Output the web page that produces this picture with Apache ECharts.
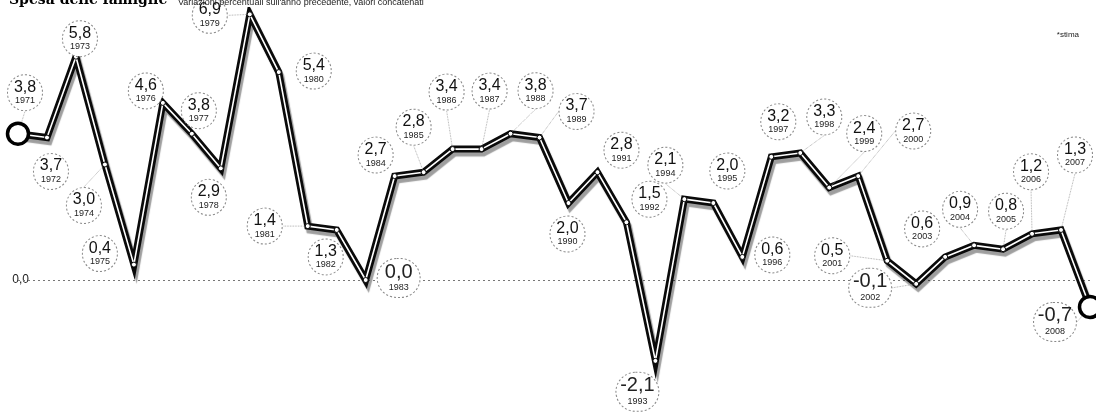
<!DOCTYPE html>
<html><head><meta charset="utf-8">
<script src="https://cdn.jsdelivr.net/npm/echarts@6/dist/echarts.min.js"></script>
<style>html,body{margin:0;padding:0;background:#fff}#c{width:1096px;height:413px}</style>
</head><body><div id="c"></div>
<script>
const years = ['1971','1972','1973','1974','1975','1976','1977','1978','1979','1980',
  '1981','1982','1983','1984','1985','1986','1987','1988','1989','1990',
  '1991','1992','1993','1994','1995','1996','1997','1998','1999','2000',
  '2001','2002','2003','2004','2005','2006','2007','2008'];
const values = [3.8,3.7,5.8,3.0,0.4,4.6,3.8,2.9,6.9,5.4,
  1.4,1.3,0.0,2.7,2.8,3.4,3.4,3.8,3.7,2.0,
  2.8,1.5,-2.1,2.1,2.0,0.6,3.2,3.3,2.4,2.7,
  0.5,-0.1,0.6,0.9,0.8,1.2,1.3,-0.7];
const titleText = 'Spesa delle famiglie';
const subtitleText = "Variazioni percentuali sull'anno precedente, valori concatenati";
const noteText = '*stima';

// layout only: offset (px) of each annotation circle from its point
const labelOffsets = [[7,-41],[4,34],[4,-18],[-21,41],[-34,-11],[-17,-12],[7,-23],[-12,29],[-40,1],[35,-1],
  [-43,0],[-11,27],[33,-2],[-19,-21],[-10,-45],[-6,-57],[8,-58],[25,-43],[37,-26],[-1,31],
  [24,-22],[23,-23],[-18,31],[-19,-34],[14,-32],[30,-2],[7,-35],[24,-36],[35,-54],[55,-45],
  [-55,-5],[-46,4],[-23,-28],[-14,-36],[3,-38],[-1,-62],[14,-75],[-35,15]];

const fmt = v => v.toFixed(1).replace('.', ',');
const NARROW = "'Liberation Sans Narrow','Arial Narrow','Liberation Sans',sans-serif";
const last = values.length - 1;

function labelFor(v, i) {
  const big = v <= 0;
  return {
    show: true,
    position: 'inside',
    formatter: p => '{' + (big ? 'vb' : 'v') + '|' + fmt(p.value) + '}\n{y|' + p.name + '}',
    width: big ? 40 : 32,
    padding: big ? [3, 1, 4, 1] : [4, 1, 4, 1],
    backgroundColor: '#fff',
    borderColor: '#8a8a8a',
    borderWidth: 1,
    borderType: 'dotted',
    borderRadius: big ? 22 : 18,
    align: 'center',
    verticalAlign: 'middle',
    rich: {
      v: {fontFamily: NARROW, fontSize: 16, lineHeight: 16, color: '#111', align: 'center'},
      vb: {fontFamily: NARROW, fontSize: 20, lineHeight: 20, color: '#222', align: 'center'},
      y: {fontFamily: NARROW, fontSize: 9, lineHeight: 11, color: '#222', align: 'center'}
    }
  };
}

const whiteData = values.map((v, i) => {
  const o = labelOffsets[i];
  const item = {value: v, label: labelFor(v, i), labelLine: {show: Math.hypot(o[0], o[1]) > 38}};
  if (i === 0 || i === last) {
    item.symbolSize = 21;
    item.itemStyle = {color: '#fff', borderColor: '#000', borderWidth: 3.5};
  }
  return item;
});

const chart = echarts.init(document.getElementById('c'), null, {renderer: 'canvas'});
chart.setOption({
  animation: false,
  backgroundColor: '#fff',
  title: [
    {
      text: titleText, left: 9, top: -8, padding: 0,
      textStyle: {fontFamily: "'DejaVu Serif', serif", fontWeight: 900, fontSize: 14, color: '#000', lineHeight: 16}
    },
    {
      text: subtitleText, left: 178, top: -2, padding: 0,
      textStyle: {fontFamily: "'Liberation Sans', sans-serif", fontSize: 9, fontWeight: 'normal', color: '#222', lineHeight: 10}
    },
    {
      text: noteText, right: 12, top: 26,
      textStyle: {fontFamily: "'Liberation Sans', sans-serif", fontSize: 8, fontWeight: 'normal', color: '#222'}
    }
  ],
  grid: {left: 18, right: 6, top: 10.5, height: 385},
  xAxis: {
    type: 'category', data: years, boundaryGap: false,
    axisLine: {show: false}, axisTick: {show: false}, axisLabel: {show: false}, splitLine: {show: false}
  },
  yAxis: {
    type: 'value', min: -3, max: 7, interval: 1,
    axisLine: {show: false}, axisTick: {show: false}, splitLine: {show: false},
    axisLabel: {
      formatter: v => (v === 0 ? '0,0' : ''),
      margin: -15, fontSize: 12, color: '#222',
      fontFamily: "'Liberation Sans', sans-serif",
      backgroundColor: '#fff', padding: [0, 4, 0, 0]
    }
  },
  series: [
    {
      type: 'line', data: values, silent: true, z: 2,
      showSymbol: false, symbol: 'none',
      lineStyle: {color: '#0a0a0a', width: 7, join: 'miter',
        shadowColor: 'rgba(0,0,0,0.38)', shadowBlur: 1, shadowOffsetX: 2, shadowOffsetY: 4},
      markLine: {
        silent: true, symbol: 'none', z: 1,
        label: {show: false},
        lineStyle: {color: '#777', type: [2, 3], width: 1},
        data: [{yAxis: 0}]
      }
    },
    {
      type: 'line', data: whiteData, silent: true, z: 3,
      symbol: 'circle', symbolSize: 5, showAllSymbol: true,
      lineStyle: {color: '#fff', width: 1.6},
      itemStyle: {color: '#fff', borderColor: '#000', borderWidth: 1},
      labelLine: {show: true, lineStyle: {color: '#999', width: 0.8, type: 'dotted'}},
      labelLayout: p => ({dx: labelOffsets[p.dataIndex][0], dy: labelOffsets[p.dataIndex][1]})
    }
  ]
});
</script>
</body></html>
